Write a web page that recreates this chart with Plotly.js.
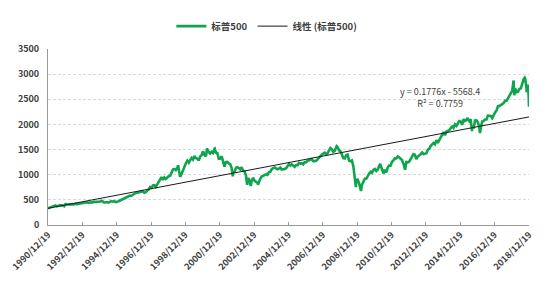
<!DOCTYPE html>
<html>
<head>
<meta charset="utf-8">
<script src="https://cdn.plot.ly/plotly-3.0.1.min.js"></script>
<style>html,body{margin:0;padding:0;background:#fff;}#chart{width:550px;height:285px;}</style>
</head>
<body>
<div id="chart"></div>
<script>
// ---- Data (S&P 500 index level) ----
const seriesName = '标普500';
const trendName = '线性 (标普500)';
const startDate = '1990-12-19';
const startValue = 330;

const years = [1991,1992,1993,1994,1995,1996,1997,1998,1999,2000,2001,2002,2003,2004,
               2005,2006,2007,2008,2009,2010,2011,2012,2013,2014,2015,2016,2017,2018];
const y1991 = [344,367,375,375,390,371,388,395,388,392,375,417];
const y1992 = [409,413,404,415,415,408,424,414,418,419,431,436];
const y1993 = [439,443,452,440,450,451,448,464,459,468,462,466];
const y1994 = [482,467,446,451,457,444,458,475,463,472,454,459];
const y1995 = [470,487,501,515,533,545,562,562,584,582,605,616];
const y1996 = [636,640,646,654,669,671,640,652,687,705,757,741];
const y1997 = [786,791,757,801,848,885,954,899,947,915,955,970];
const y1998 = [980,1049,1102,1112,1091,1134,1121,957,1017,1099,1164,1229];
const y1999 = [1280,1238,1286,1335,1302,1373,1329,1320,1283,1363,1389,1469];
const y2000 = [1394,1366,1499,1452,1421,1455,1431,1518,1437,1429,1315,1320];
const y2001 = [1366,1240,1160,1249,1256,1224,1211,1134,1041,1060,1139,1148];
const y2002 = [1130,1107,1147,1077,1067,990,912,916,815,886,936,880];
const y2003 = [856,841,848,917,964,975,990,1008,996,1051,1058,1112];
const y2004 = [1131,1145,1126,1107,1121,1141,1102,1104,1115,1130,1174,1212];
const y2005 = [1181,1204,1181,1157,1192,1191,1234,1220,1229,1207,1249,1248];
const y2006 = [1280,1281,1295,1311,1270,1270,1277,1304,1336,1378,1401,1418];
const y2007 = [1438,1407,1421,1482,1531,1503,1455,1474,1527,1549,1481,1468];
const y2008 = [1379,1331,1323,1386,1400,1280,1267,1283,1166,969,896,903];
const y2009 = [826,735,798,873,919,919,987,1021,1057,1036,1096,1115];
const y2010 = [1074,1104,1169,1187,1089,1031,1102,1049,1141,1183,1181,1258];
const y2011 = [1286,1327,1326,1364,1345,1321,1292,1219,1131,1253,1247,1258];
const y2012 = [1312,1366,1408,1398,1310,1362,1379,1407,1441,1412,1416,1426];
const y2013 = [1498,1515,1569,1598,1631,1606,1686,1633,1682,1757,1806,1848];
const y2014 = [1783,1859,1872,1884,1924,1960,1931,2003,1972,2018,2068,2059];
const y2015 = [1995,2105,2068,2086,2107,2063,2104,1972,1920,2079,2080,2044];
const y2016 = [1940,1932,2060,2065,2097,2099,2174,2171,2168,2126,2199,2239];
const y2017 = [2279,2364,2363,2384,2412,2423,2470,2472,2519,2575,2648,2674];
const y2018 = [2824,2714,2641,2648,2705,2718,2816,2902,2914,2712,2760];
const yearVals = [y1991,y1992,y1993,y1994,y1995,y1996,y1997,y1998,y1999,y2000,y2001,y2002,y2003,y2004,
                  y2005,y2006,y2007,y2008,y2009,y2010,y2011,y2012,y2013,y2014,y2015,y2016,y2017,y2018];

// intra-month highs / lows visible in the chart
const extremeDates = ['1998-07-17','2000-03-24','2000-09-01','2001-09-21','2002-07-23','2002-10-09','2003-03-11',
  '2007-10-09','2008-11-20','2009-03-09','2010-04-23','2010-07-02','2011-10-03','2015-05-21','2015-08-25',
  '2016-02-11','2018-01-26','2018-02-08','2018-09-20','2018-10-29','2018-12-03','2018-12-19'];
const extremeValues = [1187,1527,1521,966,797,777,800,
  1565,752,677,1217,1022,1099,2131,1867,
  1829,2873,2581,2930,2641,2790,2350];

// linear trend line (as displayed): y = 0.1776x - 5568.4, R² = 0.7759
const trendDates = ['1990-12-19','2018-12-19'];
const trendValues = [332,2149];
const trendLabel = 'y = 0.1776x - 5568.4<br>R² = 0.7759';

// x-axis tick labels
const tickDates = ['1990-12-19','1992-12-19','1994-12-19','1996-12-19','1998-12-19','2000-12-19','2002-12-19',
  '2004-12-19','2006-12-19','2008-12-19','2010-12-19','2012-12-19','2014-12-19','2016-12-19','2018-12-19'];
const tickLabels = ['1990/12/19','1992/12/19','1994/12/19','1996/12/19','1998/12/19','2000/12/19','2002/12/19',
  '2004/12/19','2006/12/19','2008/12/19','2010/12/19','2012/12/19','2014/12/19','2016/12/19','2018/12/19'];

// ---- Build series ----
let pts = [[startDate, startValue]];
years.forEach((yr, i) => {
  yearVals[i].forEach((v, m) => {
    const mm = String(m + 1).padStart(2, '0');
    pts.push([yr + '-' + mm + '-28', v]);
  });
});
extremeDates.forEach((d, i) => pts.push([d, extremeValues[i]]));
pts.sort((a, b) => a[0] < b[0] ? -1 : (a[0] > b[0] ? 1 : 0));
const xs = pts.map(p => p[0]);
const ys = pts.map(p => p[1]);

const FONT = '"Noto Sans CJK SC", "Noto Sans", sans-serif';
const TXT = '#404040';

const traces = [
  {x: xs, y: ys, type: 'scatter', mode: 'lines', name: seriesName,
   line: {color: '#0FA54F', width: 2.6}},
  {x: trendDates, y: trendValues, type: 'scatter', mode: 'lines', name: trendName,
   line: {color: '#1a1a1a', width: 1}}
];

const layout = {
  width: 550, height: 285,
  margin: {l: 48, r: 21, t: 36, b: 60},
  paper_bgcolor: '#ffffff', plot_bgcolor: '#ffffff',
  font: {family: FONT, color: TXT, size: 9},
  showlegend: true,
  legend: {orientation: 'h', x: 0.455, xanchor: 'center', y: 1.13, yanchor: 'middle',
           font: {family: FONT, size: 9.5, color: TXT, weight: 700}, itemwidth: 30,
           bgcolor: 'rgba(0,0,0,0)'},
  xaxis: {
    type: 'date', range: ['1990-12-19', '2018-12-19'],
    tickmode: 'array', tickvals: tickDates, ticktext: tickLabels, tickangle: -45,
    tickfont: {family: FONT, size: 9, color: TXT, weight: 700},
    showgrid: false, zeroline: false,
    showline: true, linecolor: '#9a9a9a', linewidth: 1,
    ticks: 'inside', ticklen: 3, tickcolor: '#9a9a9a'
  },
  yaxis: {
    range: [0, 3500], tickmode: 'array', tickvals: [0,500,1000,1500,2000,2500,3000,3500],
    tickfont: {family: FONT, size: 9, color: TXT, weight: 700},
    showgrid: true, gridcolor: '#d9d9d9', gridwidth: 1, griddash: '3px,2px',
    zeroline: false, showline: true, linecolor: '#9a9a9a', linewidth: 1,
    ticks: '', ticklabelstandoff: 6
  },
  annotations: [
    {x: '2013-10-15', y: 2540, xref: 'x', yref: 'y', text: trendLabel, showarrow: false,
     align: 'center', font: {family: FONT, size: 9, color: TXT}}
  ]
};

Plotly.newPlot('chart', traces, layout, {displayModeBar: false, staticPlot: true});
</script>
</body>
</html>
